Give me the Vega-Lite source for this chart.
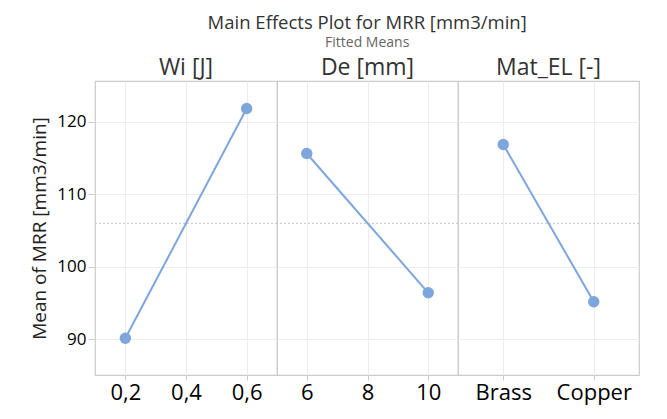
{
  "$schema": "https://vega.github.io/schema/vega-lite/v6.json",
  "background": "white",
  "padding": {"left": 30, "top": 13, "right": 5, "bottom": 5},
  "spacing": 0,
  "title": {
    "text": "Main Effects Plot for MRR [mm3/min]",
    "subtitle": "Fitted Means",
    "anchor": "middle",
    "dx": 32,
    "font": "Open Sans",
    "fontSize": 18.5,
    "fontWeight": "normal",
    "color": "#333333",
    "subtitleFont": "Open Sans",
    "subtitleFontSize": 14,
    "subtitleColor": "#666666",
    "subtitlePadding": 4,
    "offset": 7
  },
  "datasets": {
    "wi": [{"Wi": 0.2, "MRR": 90.1}, {"Wi": 0.6, "MRR": 121.85}],
    "de": [{"De": 6, "MRR": 115.64}, {"De": 10, "MRR": 96.39}],
    "mat": [{"Mat": "Brass", "MRR": 116.88}, {"Mat": "Copper", "MRR": 95.15}],
    "grand": [{"mean": 105.98}]
  },
  "config": {
    "font": "Open Sans",
    "view": {"stroke": "#cccccc", "strokeWidth": 1.2},
    "concat": {"spacing": 0},
    "axis": {
      "gridColor": "#ececec",
      "gridWidth": 1,
      "tickColor": "#cccccc",
      "domain": false,
      "labelColor": "#000000",
      "titleColor": "#222222",
      "titleFontWeight": "normal"
    }
  },
  "vconcat": [
    {
      "spacing": 0,
      "bounds": "flush",
      "hconcat": [
        {
          "width": 182,
          "height": 20,
          "data": {"values": [{"h": "Wi [J]"}]},
          "mark": {"type": "text", "fontSize": 23, "color": "#333333", "baseline": "middle"},
          "encoding": {"text": {"field": "h"}}
        },
        {
          "width": 181,
          "height": 20,
          "data": {"values": [{"h": "De [mm]"}]},
          "mark": {"type": "text", "fontSize": 23, "color": "#333333", "baseline": "middle"},
          "encoding": {"text": {"field": "h"}}
        },
        {
          "width": 181,
          "height": 20,
          "data": {"values": [{"h": "Mat_EL [-]"}]},
          "mark": {"type": "text", "fontSize": 23, "color": "#333333", "baseline": "middle"},
          "encoding": {"text": {"field": "h"}}
        }
      ]
    },
    {
      "spacing": 0,
      "bounds": "flush",
      "hconcat": [
        {
          "width": 182,
          "height": 294,
          "layer": [
            {
              "data": {"name": "grand"},
              "mark": {"type": "rule", "color": "#c8c8c8", "strokeDash": [2, 2], "strokeWidth": 1},
              "encoding": {"y": {"field": "mean", "type": "quantitative", "scale": {"domain": [85.03, 125.66], "nice": false, "zero": false}}}
            },
            {
              "data": {"name": "wi"},
              "mark": {"type": "line", "color": "#7da6dc", "strokeWidth": 2, "point": {"filled": true, "size": 130, "color": "#7da6dc", "opacity": 1}},
              "encoding": {
                "x": {"field": "Wi", "type": "quantitative", "scale": {"domain": [0.1, 0.7], "nice": false, "zero": false},
                  "axis": {"values": [0.2, 0.4, 0.6], "labelExpr": "replace(format(datum.value, '.1f'), '.', ',')", "title": null, "labelFontSize": 22, "tickSize": 5, "labelPadding": 2}},
                "y": {"field": "MRR", "type": "quantitative", "scale": {"domain": [85.03, 125.66], "nice": false, "zero": false},
                  "axis": {"values": [90, 100, 110, 120], "title": "Mean of MRR [mm3/min]", "titleFontSize": 19, "labelFontSize": 17, "tickSize": 7, "labelPadding": 2, "titlePadding": 7}}
              }
            }
          ]
        },
        {
          "width": 181,
          "height": 294,
          "layer": [
            {
              "data": {"name": "grand"},
              "mark": {"type": "rule", "color": "#c8c8c8", "strokeDash": [2, 2], "strokeWidth": 1},
              "encoding": {"y": {"field": "mean", "type": "quantitative", "scale": {"domain": [85.03, 125.66], "nice": false, "zero": false}}}
            },
            {
              "data": {"name": "de"},
              "mark": {"type": "line", "color": "#7da6dc", "strokeWidth": 2, "point": {"filled": true, "size": 130, "color": "#7da6dc", "opacity": 1}},
              "encoding": {
                "x": {"field": "De", "type": "quantitative", "scale": {"domain": [5.02, 10.98], "nice": false, "zero": false},
                  "axis": {"values": [6, 8, 10], "title": null, "labelFontSize": 22, "tickSize": 5, "labelPadding": 2}},
                "y": {"field": "MRR", "type": "quantitative", "scale": {"domain": [85.03, 125.66], "nice": false, "zero": false},
                  "axis": {"values": [90, 100, 110, 120], "title": null, "labels": false, "ticks": false, "minExtent": 0}}
              }
            }
          ]
        },
        {
          "width": 181,
          "height": 294,
          "layer": [
            {
              "data": {"name": "grand"},
              "mark": {"type": "rule", "color": "#c8c8c8", "strokeDash": [2, 2], "strokeWidth": 1},
              "encoding": {"y": {"field": "mean", "type": "quantitative", "scale": {"domain": [85.03, 125.66], "nice": false, "zero": false}}}
            },
            {
              "data": {"name": "mat"},
              "mark": {"type": "line", "color": "#7da6dc", "strokeWidth": 2, "point": {"filled": true, "size": 130, "color": "#7da6dc", "opacity": 1}},
              "encoding": {
                "x": {"field": "Mat", "type": "ordinal", "scale": {"type": "point", "padding": 0.5},
                  "axis": {"title": null, "labelFontSize": 22, "labelAngle": 0, "tickSize": 5, "labelPadding": 2, "grid": true}},
                "y": {"field": "MRR", "type": "quantitative", "scale": {"domain": [85.03, 125.66], "nice": false, "zero": false},
                  "axis": {"values": [90, 100, 110, 120], "title": null, "labels": false, "ticks": false, "minExtent": 0}}
              }
            }
          ]
        }
      ]
    }
  ]
}
